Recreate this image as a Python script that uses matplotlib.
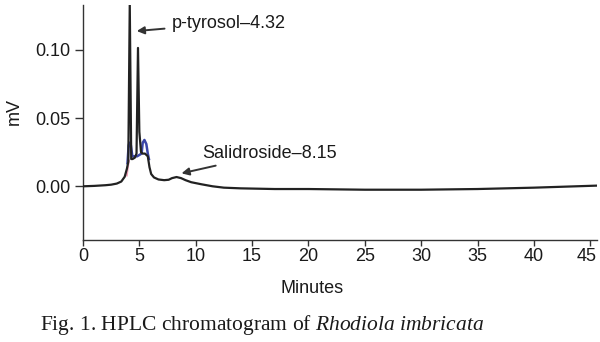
import matplotlib
matplotlib.use("Agg")
import matplotlib.pyplot as plt
import matplotlib.transforms as mtransforms

# main detector trace (minutes, mV)
time_main = [0, 1, 2, 2.5, 3.0, 3.4, 3.7, 3.9, 4.02, 4.15, 4.28, 4.4, 4.6, 4.75,
             4.88, 5.0, 5.15, 5.3, 5.5, 5.75, 5.9, 6.05, 6.3, 6.7, 7.2, 7.6, 7.9,
             8.3, 8.7, 9.1, 9.6, 10.5, 11.5, 12.5, 14, 17, 20, 25, 30, 35, 40, 45.6]
signal_main = [0.000, 0.0003, 0.0008, 0.0012, 0.002, 0.0035, 0.007, 0.013, 0.018,
               0.134, 0.020, 0.020, 0.021, 0.024, 0.1015, 0.040, 0.025, 0.024,
               0.024, 0.022, 0.014, 0.009, 0.0065, 0.005, 0.0045, 0.0048, 0.006,
               0.0068, 0.006, 0.0045, 0.003, 0.0015, 0.0, -0.001, -0.0015, -0.002,
               -0.002, -0.0025, -0.0025, -0.002, -0.001, 0.0005]

# blue and pink overlay traces (only visible near the peaks)
time_blue = [3.95, 4.05, 4.12, 4.25, 4.38, 4.8, 5.2, 5.3, 5.45, 5.62, 5.75, 5.85]
signal_blue = [0.017, 0.030, 0.032, 0.030, 0.022, 0.022, 0.024, 0.032, 0.034,
               0.031, 0.024, 0.020]
time_pink = [3.88, 3.96, 4.03, 4.08]
signal_pink = [0.008, 0.013, 0.017, 0.019]

x_ticks = [0, 5, 10, 15, 20, 25, 30, 35, 40, 45]
y_ticks = [0.00, 0.05, 0.10]

peak_labels = ["p-tyrosol\u20134.32", "Salidroside\u20138.15"]
peak_arrow_heads = [(4.77, 0.1139), (8.74, 0.0095)]
peak_text_pos = [(7.85, 0.1197), (10.6, 0.0241)]

plt.rcParams["font.family"] = ["Liberation Sans", "DejaVu Sans"]
plt.rcParams["mathtext.fontset"] = "custom"
plt.rcParams["mathtext.rm"] = "Liberation Serif"
plt.rcParams["mathtext.it"] = "Liberation Serif:italic"

fig = plt.figure(figsize=(6, 3.42), dpi=100)
ax = fig.add_axes([0.1383, 0.2982, 0.8567, 0.6872])

ax.plot(time_main, signal_main, color="#222222", lw=1.6, zorder=3)
ax.plot(time_blue, signal_blue, color="#3a45a8", lw=1.8, zorder=2)
ax.plot(time_pink, signal_pink, color="#f0a0b8", lw=1.5, zorder=2)

for label, head, pos in zip(peak_labels, peak_arrow_heads, peak_text_pos):
    ax.annotate(label, xy=head, xytext=pos, ha="left", va="center",
                fontsize=13, color="#1a1a1a",
                arrowprops=dict(arrowstyle="-|>", color="#333333", lw=1.4,
                                mutation_scale=11, shrinkA=3, shrinkB=0))

ax.set_xlim(0, 45.6)
ax.set_ylim(-0.0394, 0.133)
ax.set_xticks(x_ticks)
ax.set_yticks(y_ticks)
ax.set_yticklabels([f"{v:.2f}" for v in y_ticks])

for side in ["top", "right"]:
    ax.spines[side].set_visible(False)
for side in ["left", "bottom"]:
    ax.spines[side].set_color("#333333")
    ax.spines[side].set_linewidth(1.0)

ax.tick_params(axis="x", length=4, width=1, pad=2, labelsize=13, colors="#333333",
               labelcolor="#1a1a1a")
ax.tick_params(axis="y", length=6, width=1, pad=3, labelsize=13, colors="#333333",
               labelcolor="#1a1a1a")

# last x label sits a little left so it stays inside the figure
last_label = ax.get_xticklabels()[-1]
last_label.set_transform(last_label.get_transform() +
                         mtransforms.ScaledTranslation(-4 / 100, 0, fig.dpi_scale_trans))

ax.set_xlabel("Minutes", fontsize=13, color="#1a1a1a")
ax.xaxis.set_label_coords(0.4455, -0.17)
ax.set_ylabel("mV", fontsize=13, color="#1a1a1a")
ax.yaxis.set_label_coords(-0.117, 0.545)

fig.text(40 / 600, 12 / 342, r"Fig. 1. HPLC chromatogram of $Rhodiola\ imbricata$",
         fontsize=15.5, family="Liberation Serif", color="#1a1a1a", va="baseline")

fig.savefig("out.png", dpi=100)
